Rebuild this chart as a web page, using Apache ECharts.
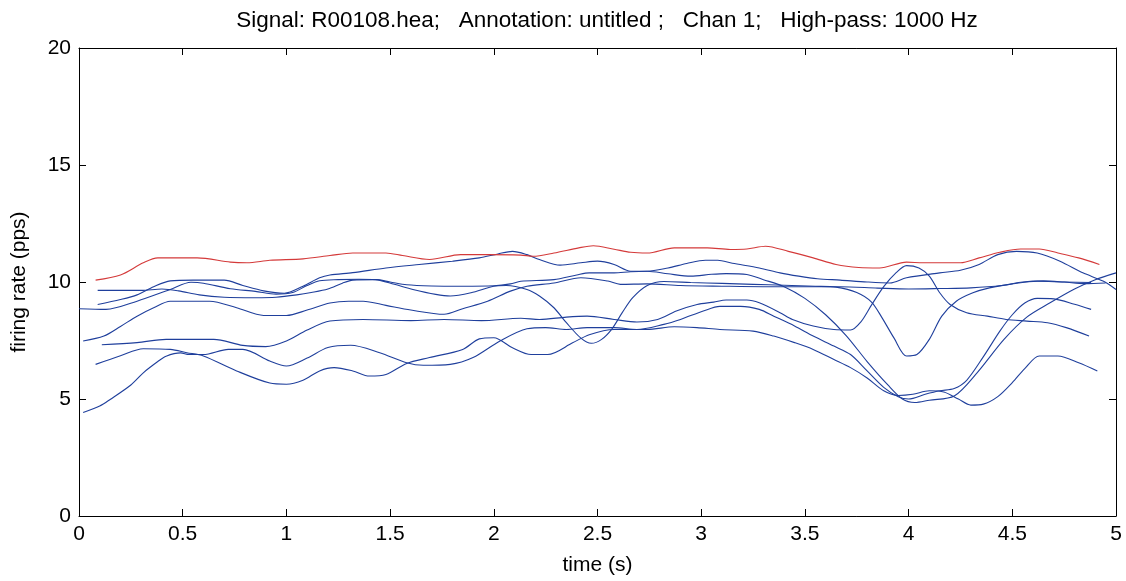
<!DOCTYPE html>
<html>
<head>
<meta charset="utf-8">
<script src="https://cdn.jsdelivr.net/npm/echarts@6/dist/echarts.min.js"></script>
<style>
html,body{margin:0;padding:0;background:#fff;}
#chart{width:1126px;height:581px;}
</style>
</head>
<body>
<div id="chart"></div>
<script>
// ---- data (time in s, firing rate in pps) ----
const titleText = "Signal: R00108.hea;   Annotation: untitled ;   Chan 1;   High-pass: 1000 Hz";
const xTicks = [0, 0.5, 1, 1.5, 2, 2.5, 3, 3.5, 4, 4.5, 5];
const yTicks = [0, 5, 10, 15, 20];

const redLine = [[0.08,10.08],[0.2,10.3],[0.31,10.82],[0.38,11.03],[0.57,11.03],[0.73,10.85],[0.81,10.82],[0.92,10.93],[1.08,10.99],[1.21,11.13],[1.32,11.24],[1.48,11.24],[1.56,11.13],[1.69,10.96],[1.84,11.17],[1.97,11.17],[2.13,11.15],[2.19,11.1],[2.29,11.24],[2.41,11.46],[2.48,11.55],[2.58,11.4],[2.66,11.27],[2.74,11.24],[2.87,11.46],[3.03,11.46],[3.14,11.39],[3.22,11.41],[3.31,11.53],[3.42,11.31],[3.54,11.03],[3.65,10.75],[3.76,10.62],[3.86,10.6],[3.99,10.85],[4.07,10.82],[4.25,10.82],[4.34,11.03],[4.44,11.27],[4.54,11.41],[4.63,11.41],[4.72,11.24],[4.82,11.03],[4.92,10.75]];

const blue1 = [[0.09,9.04],[0.2,9.25],[0.28,9.45],[0.36,9.8],[0.44,10.05],[0.55,10.08],[0.7,10.08],[0.79,9.85],[0.89,9.62],[0.99,9.52],[1.08,9.82],[1.16,10.18],[1.21,10.3],[1.32,10.4],[1.48,10.6],[1.64,10.75],[1.8,10.89],[1.93,11.03],[2.02,11.2],[2.09,11.31],[2.16,11.17],[2.22,10.96],[2.32,10.72],[2.42,10.82],[2.5,10.89],[2.58,10.75],[2.66,10.46],[2.74,10.46],[2.84,10.6],[2.93,10.79],[3.02,10.93],[3.08,10.93],[3.15,10.8],[3.28,10.6],[3.38,10.39],[3.47,10.25],[3.56,10.14],[3.67,10.08],[3.8,10.0],[3.91,9.96],[3.99,10.18],[4.15,10.39],[4.25,10.5],[4.34,10.75],[4.43,11.17],[4.52,11.31],[4.62,11.24],[4.73,10.89],[4.84,10.39],[4.94,10.03],[5.0,9.68]];

const blue2 = [[0.09,9.64],[0.3,9.64],[0.4,9.7],[0.48,9.62],[0.58,9.45],[0.7,9.35],[0.85,9.33],[0.95,9.35],[1.05,9.45],[1.12,9.55],[1.2,9.7],[1.27,9.95],[1.32,10.08],[1.43,10.1],[1.5,10.0],[1.58,9.88],[1.7,9.83],[1.85,9.82],[2.0,9.84],[2.08,9.92],[2.13,10.03],[2.29,10.1],[2.4,10.3],[2.46,10.39],[2.58,10.39],[2.66,10.44],[2.74,10.46],[2.84,10.35],[2.95,10.25],[3.05,10.33],[3.12,10.36],[3.22,10.32],[3.3,10.1],[3.4,9.8],[3.5,9.3],[3.6,8.6],[3.7,7.7],[3.8,6.6],[3.9,5.6],[3.97,5.0],[4.03,4.85],[4.1,4.95],[4.22,5.13],[4.33,6.12],[4.46,7.55],[4.57,8.5],[4.68,9.1],[4.8,9.7],[4.9,10.1],[5.0,10.39]];

const blue3 = [[0.0,8.86],[0.13,8.83],[0.28,9.18],[0.44,9.68],[0.54,9.99],[0.6,9.95],[0.73,9.71],[0.85,9.6],[0.95,9.48],[1.03,9.55],[1.1,9.85],[1.16,10.05],[1.25,10.1],[1.35,10.12],[1.43,10.1],[1.52,9.9],[1.61,9.68],[1.72,9.47],[1.79,9.4],[1.89,9.54],[2.0,9.82],[2.06,9.85],[2.16,9.68],[2.22,9.4],[2.29,8.9],[2.35,8.26],[2.42,7.6],[2.47,7.38],[2.52,7.55],[2.57,8.0],[2.62,8.7],[2.67,9.33],[2.74,9.85],[2.82,10.02],[2.95,9.98],[3.1,9.94],[3.25,9.9],[3.4,9.86],[3.55,9.82],[3.65,9.78],[3.75,9.55],[3.82,9.15],[3.87,8.5],[3.93,7.6],[3.99,6.84],[4.04,6.9],[4.1,7.55],[4.16,8.54],[4.23,9.18],[4.31,9.54],[4.39,9.75],[4.5,9.92],[4.62,10.03],[4.75,10.0],[4.88,9.98]];

const blue4 = [[0.02,7.48],[0.12,7.69],[0.2,8.1],[0.28,8.54],[0.36,8.9],[0.44,9.18],[0.63,9.18],[0.76,8.9],[0.89,8.57],[1.0,8.57],[1.1,8.8],[1.21,9.1],[1.3,9.18],[1.37,9.18],[1.48,9.0],[1.6,8.8],[1.76,8.62],[1.85,8.86],[1.97,9.18],[2.08,9.61],[2.16,9.82],[2.29,9.96],[2.42,10.18],[2.55,10.04],[2.61,9.9],[2.74,9.92],[2.9,9.85],[3.1,9.82],[3.3,9.8],[3.5,9.8],[3.67,9.8],[3.85,9.74],[4.0,9.7],[4.15,9.72],[4.3,9.75],[4.45,9.85],[4.55,10.0],[4.65,10.05],[4.75,10.0],[4.85,9.93],[4.95,9.96]];

const blue5 = [[0.11,7.32],[0.28,7.41],[0.42,7.55],[0.65,7.55],[0.79,7.29],[0.9,7.24],[1.0,7.48],[1.1,7.95],[1.21,8.33],[1.37,8.4],[1.6,8.35],[1.76,8.4],[1.94,8.35],[2.13,8.45],[2.22,8.4],[2.35,8.5],[2.45,8.54],[2.58,8.4],[2.69,8.29],[2.79,8.4],[2.88,8.76],[2.98,9.04],[3.06,9.14],[3.12,9.23],[3.22,9.23],[3.28,9.11],[3.38,8.69],[3.44,8.4],[3.54,8.12],[3.64,7.97],[3.72,7.95],[3.77,8.3],[3.82,9.0],[3.88,9.8],[3.94,10.4],[3.99,10.7],[4.05,10.6],[4.1,10.25],[4.15,9.54],[4.2,9.04],[4.28,8.69],[4.38,8.54],[4.47,8.4],[4.57,8.33],[4.67,8.26],[4.76,8.05],[4.87,7.69]];

const blue6 = [[0.02,4.42],[0.1,4.7],[0.15,4.98],[0.25,5.6],[0.31,6.12],[0.38,6.6],[0.42,6.83],[0.49,6.97],[0.53,6.9],[0.6,6.9],[0.72,7.12],[0.79,7.12],[0.92,6.62],[1.0,6.41],[1.1,6.75],[1.2,7.2],[1.31,7.3],[1.45,6.98],[1.58,6.55],[1.66,6.44],[1.79,6.48],[1.9,6.77],[2.03,7.48],[2.16,8.0],[2.25,8.05],[2.35,7.97],[2.45,8.05],[2.58,8.05],[2.69,7.97],[2.82,8.19],[2.9,8.4],[3.01,8.76],[3.09,8.96],[3.19,8.96],[3.28,8.83],[3.35,8.54],[3.45,8.12],[3.54,7.69],[3.64,7.26],[3.72,6.9],[3.8,6.2],[3.88,5.5],[3.95,5.1],[4.0,5.0],[4.08,5.2],[4.15,5.35],[4.22,5.45],[4.28,5.8],[4.36,6.8],[4.44,7.9],[4.5,8.6],[4.56,9.1],[4.62,9.3],[4.7,9.28],[4.8,9.05],[4.88,8.83]];

const blue7 = [[0.08,6.48],[0.2,6.85],[0.31,7.15],[0.44,7.12],[0.52,6.98],[0.6,6.84],[0.76,6.2],[0.92,5.68],[1.0,5.63],[1.08,5.8],[1.16,6.2],[1.23,6.34],[1.32,6.2],[1.4,5.98],[1.48,6.05],[1.58,6.52],[1.69,6.77],[1.85,7.12],[1.93,7.57],[2.0,7.62],[2.09,7.19],[2.18,6.9],[2.26,6.9],[2.38,7.4],[2.46,7.75],[2.58,7.97],[2.74,7.97],[2.87,8.09],[2.98,8.05],[3.09,7.97],[3.25,7.9],[3.35,7.69],[3.45,7.41],[3.54,7.12],[3.64,6.69],[3.72,6.34],[3.8,5.9],[3.88,5.35],[3.95,5.15],[4.02,5.2],[4.1,5.35],[4.17,5.3],[4.24,5.0],[4.3,4.74],[4.36,4.78],[4.43,5.1],[4.5,5.7],[4.56,6.3],[4.63,6.84],[4.72,6.84],[4.82,6.55],[4.91,6.2]];

const blueLines = [blue1, blue2, blue3, blue4, blue5, blue6, blue7];

// ---- chart ----
const FONT = "'Liberation Sans', Arial, sans-serif";
const RED = '#d43a3a';
const BLUE = '#1f3f9c';
const LABEL_SIZE = 21;

const chart = echarts.init(document.getElementById('chart'), null, {renderer: 'canvas'});

function mkAxis(isX, pos, show) {
  return {
    type: 'value',
    position: pos,
    min: isX ? xTicks[0] : yTicks[0],
    max: isX ? xTicks[xTicks.length - 1] : yTicks[yTicks.length - 1],
    interval: isX ? xTicks[1] - xTicks[0] : yTicks[1] - yTicks[0],
    axisLine: {show: true, onZero: false, lineStyle: {color: '#000', width: 1}},
    axisTick: {show: true, inside: true, length: 7, lineStyle: {color: '#000', width: 1}},
    axisLabel: {show: show, color: '#000', fontFamily: FONT, fontSize: LABEL_SIZE, margin: 8},
    splitLine: {show: false}
  };
}

const xBottom = mkAxis(true, 'bottom', true);
xBottom.name = 'time (s)';
xBottom.nameLocation = 'middle';
xBottom.nameGap = 39;
xBottom.nameTextStyle = {color: '#000', fontFamily: FONT, fontSize: LABEL_SIZE};
const xTop = mkAxis(true, 'top', false);

const yLeft = mkAxis(false, 'left', true);
yLeft.name = 'firing rate (pps)';
yLeft.nameLocation = 'middle';
yLeft.nameGap = 49;
yLeft.nameRotate = 90;
yLeft.nameTextStyle = {color: '#000', fontFamily: FONT, fontSize: LABEL_SIZE};
yLeft.axisLabel.margin = 8;
const yRight = mkAxis(false, 'right', false);

const series = [];
blueLines.forEach((d, i) => {
  series.push({
    type: 'line', name: 'unit' + (i + 1), data: d,
    xAxisIndex: 0, yAxisIndex: 0,
    showSymbol: false, smooth: 0.3,
    lineStyle: {color: BLUE, width: 1.1},
    z: 2
  });
});
series.push({
  type: 'line', name: 'mean', data: redLine,
  xAxisIndex: 0, yAxisIndex: 0,
  showSymbol: false, smooth: 0.3,
  lineStyle: {color: RED, width: 1.1},
  z: 3
});

chart.setOption({
  animation: false,
  backgroundColor: '#ffffff',
  title: {
    text: titleText,
    left: 602, top: 4, textAlign: 'center',
    textStyle: {color: '#000', fontFamily: FONT, fontSize: 22.5, fontWeight: 'normal'}
  },
  grid: {left: 79, right: 10, top: 48, bottom: 64, containLabel: false},
  xAxis: [xBottom, xTop],
  yAxis: [yLeft, yRight],
  series: series
});
</script>
</body>
</html>
